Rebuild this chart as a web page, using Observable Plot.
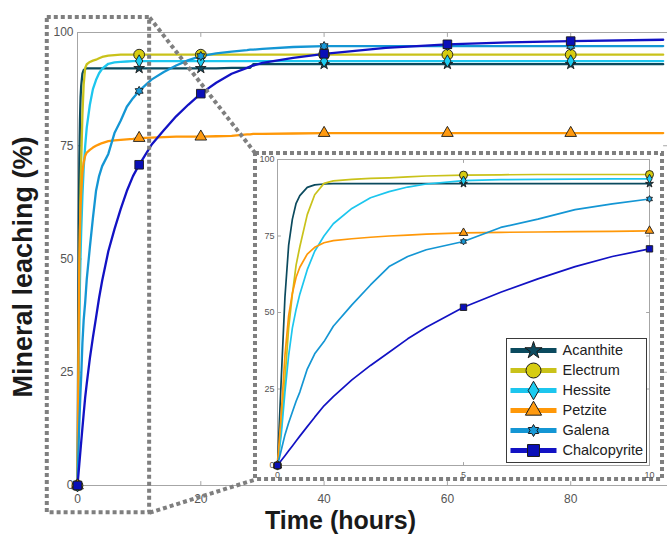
<!DOCTYPE html>
<html><head><meta charset="utf-8">
<script src="https://cdn.jsdelivr.net/npm/d3@7"></script>
<script src="https://cdn.jsdelivr.net/npm/@observablehq/plot@0.6"></script>
<style>
body{margin:0;background:#fff;}
#wrap{position:relative;width:667px;height:534px;overflow:hidden;background:#fff;}
#wrap svg{position:absolute;left:0;top:0;}
</style></head><body><div id="wrap"></div>
<script>
// ---------------- data ----------------
const time = [0, 0.1, 0.2, 0.3, 0.4, 0.5, 0.6, 0.8, 1, 1.25, 1.5, 2, 2.5, 3, 3.5, 4, 5, 6, 7, 8, 9, 10,
  12, 14, 16, 18, 20, 22.5, 25, 27.5, 28, 28.5, 30, 35, 40, 50, 60, 70, 80, 95];
const acanthite = [0, 28, 55, 72, 80.5, 85.7, 88.2, 90.9, 91.7, 92.0, 92.1, 92.1, 92.1, 92.1, 92.1, 92.1, 92.1, 92.1, 92.1, 92.1, 92.1, 92.1,
  92.1, 92.1, 92.1, 92.1, 92.1, 92.1, 92.2, 92.2, 92.2, 93.0, 93.0, 93.0, 93.0, 93.0, 93.0, 93.0, 93.0, 93.0];
const electrum = [0, 12, 28, 45, 56, 65.5, 71.5, 82, 88.5, 92.2, 93.0, 93.5, 93.8, 94.0, 94.3, 94.6, 94.9, 95.0, 95.1, 95.1, 95.1, 95.1,
  95.1, 95.1, 95.1, 95.1, 95.1, 95.1, 95.1, 95.1, 95.1, 95.1, 95.1, 95.1, 95.1, 95.1, 95.1, 95.1, 95.1, 95.1];
const hessite = [0, 10, 24, 36, 45, 51, 56, 64, 70, 75, 79, 84, 87.5, 89.5, 91, 92, 93.1, 93.4, 93.5, 93.6, 93.7, 93.7,
  93.7, 93.7, 93.7, 93.7, 93.7, 93.7, 93.7, 93.7, 93.7, 93.7, 93.7, 93.7, 93.7, 93.7, 93.7, 93.7, 93.7, 93.7];
const petzite = [0, 17, 36, 49, 56.3, 61.5, 64.8, 69.1, 71.3, 72.8, 73.5, 74.1, 74.6, 75.0, 75.3, 75.6, 76.0, 76.2, 76.3, 76.4, 76.5, 76.7,
  76.8, 76.9, 77.0, 77.0, 77.0, 77.1, 77.2, 77.5, 77.5, 77.6, 77.6, 77.7, 77.8, 77.8, 77.8, 77.8, 77.8, 77.8];
const galena = [0, 5, 10, 14, 17.5, 21, 24, 31.5, 36.5, 40.5, 45.5, 52.5, 59, 65, 68.3, 70.5, 73.2, 77.8, 80.5, 83.6, 85.5, 87.1,
  89.6, 91.3, 92.7, 93.9, 94.8, 95.4, 95.8, 96.1, 96.2, 96.2, 96.4, 96.8, 97.0, 97.0, 97.0, 97.0, 97.0, 97.0];
const chalcopyrite = [0, 1.6, 3.2, 4.8, 6.4, 8, 9.6, 12.7, 15.8, 19.5, 22.5, 28, 32.7, 37, 41.4, 45.2, 51.7, 56.6, 61, 65, 68.3, 70.8,
  75.2, 78.4, 81.5, 84.1, 86.5, 88.9, 90.9, 92.2, 92.5, 92.7, 93.3, 94.4, 95.3, 96.6, 97.4, 97.8, 98.1, 98.4];

const seriesNames = ["Acanthite", "Electrum", "Hessite", "Petzite", "Galena", "Chalcopyrite"];
const mainMarkerTimes = [0, 10, 20, 40, 60, 80];
const insetMarkerTimes = [0, 5, 10];
const mainXTicks = [0, 20, 40, 60, 80];
const yTicks = [0, 25, 50, 75, 100];
const insetXTicks = [0, 5, 10];
const xLabel = "Time (hours)";
const yLabel = "Mineral leaching (%)";

// ---------------- styles ----------------
const seriesValues = [acanthite, electrum, hessite, petzite, galena, chalcopyrite];
const lineColors = ["#0b4a5e", "#c9c21a", "#1cc6ee", "#ff9808", "#1496d4", "#1212c4"];
const fillColors = ["#0d4b60", "#d6cc10", "#1ccbf0", "#ff9a10", "#1a9ad8", "#0a0fb8"];
const hexagram = {draw(ctx, size) {
  const R = Math.sqrt(size / Math.PI), r = R / Math.sqrt(3);
  for (let k = 0; k < 12; k++) {
    const a = (k * 30 - 90) * Math.PI / 180, q = k % 2 === 0 ? R : r;
    const x = q * Math.cos(a), y = q * Math.sin(a);
    if (k) ctx.lineTo(x, y); else ctx.moveTo(x, y);
  }
  ctx.closePath();
}};
const symbols = ["star", "circle", "diamond", "triangle", hexagram, "square"];
const symScale = [0.62, 1.0, 0.7, 0.8, 0.85, 0.9];
const FONT = '"Liberation Sans", Arial, Helvetica, sans-serif';
const tickShape = {draw(ctx, l) { ctx.moveTo(0, 0); ctx.lineTo(0, -l); }};

const rows = seriesNames.flatMap((name, i) => time.map((t, j) => ({name, i, t, v: seriesValues[i][j]})));

function inwardTicks(xs, ys, x0, x1, y0, y1, len, color) {
  const o = {length: len, anchor: "start", shape: tickShape, stroke: color, strokeWidth: 1};
  return [
    Plot.vector(xs, {...o, x: d => d, y: y0, rotate: 0}),
    Plot.vector(xs, {...o, x: d => d, y: y1, rotate: 180}),
    Plot.vector(ys, {...o, x: x0, y: d => d, rotate: 90}),
    Plot.vector(ys, {...o, x: x1, y: d => d, rotate: -90})
  ];
}

function seriesMarks(data, lw) {
  return seriesNames.map((name, i) =>
    Plot.line(data.filter(d => d.i === i), {x: "t", y: "v", stroke: lineColors[i], strokeWidth: lw, strokeLinejoin: "round"}));
}
function markerMarks(data, markerTimes, baseR) {
  return seriesNames.map((name, i) =>
    Plot.dot(data.filter(d => d.i === i && markerTimes.includes(d.t)), {
      x: "t", y: "v", symbol: symbols[i], r: baseR * symScale[i],
      fill: fillColors[i], stroke: "#1b1b1b", strokeWidth: 0.9
    }));
}

// ---------------- main chart ----------------
const W = 667, H = 534;
const XMAX = 95.7;
const zoomBox = {x1: -4.9, x2: 11.7, y1: -6, y2: 103.3};
const insetBox = {x1: 28.87, x2: 94.89, y1: 1.32, y2: 73.29};
const dotted = {stroke: "#7f7f7f", strokeWidth: 4, strokeDasharray: "4,3", fill: "none"};

const main = Plot.plot({
  width: W, height: H,
  marginLeft: 77, marginRight: 0, marginTop: 32, marginBottom: 49,
  x: {domain: [0, XMAX]},
  y: {domain: [0, 100]},
  style: {fontFamily: FONT, background: "white", overflow: "visible"},
  marks: [
    Plot.frame({stroke: "#a6a6a6", strokeWidth: 1}),
    ...inwardTicks(mainXTicks.slice(1), yTicks.slice(1, -1), 0, XMAX, 0, 100, 4, "#a6a6a6"),
    Plot.axisX(mainXTicks, {tickSize: 0, tickPadding: 9, fontSize: 12, color: "#555", label: null}),
    Plot.axisY(yTicks, {tickSize: 0, tickPadding: 4, fontSize: 12, color: "#555", label: null}),
    ...seriesMarks(rows, 2.3),
    Plot.rect([0], {x1: zoomBox.x1, x2: zoomBox.x2, y1: zoomBox.y1, y2: zoomBox.y2, ...dotted}),
    Plot.rect([0], {x1: insetBox.x1, x2: insetBox.x2, y1: insetBox.y1, y2: insetBox.y2, ...dotted}),
    Plot.link([0], {x1: zoomBox.x2, y1: zoomBox.y2, x2: insetBox.x1, y2: insetBox.y2, ...dotted}),
    Plot.link([0], {x1: zoomBox.x2, y1: zoomBox.y1, x2: insetBox.x1, y2: insetBox.y1, ...dotted}),
    ...markerMarks(rows, mainMarkerTimes, 5.4),
    Plot.text([yLabel], {frameAnchor: "left", textAnchor: "middle", lineAnchor: "middle", dx: -54, dy: 8, rotate: -90, fontSize: 27, fontWeight: "bold", fill: "#1a1a1a"}),
    Plot.text([xLabel], {frameAnchor: "bottom", textAnchor: "middle", lineAnchor: "middle", dx: -32, dy: 35, fontSize: 25, fontWeight: "bold", fill: "#1a1a1a"})
  ]
});
const wrap = document.getElementById("wrap");
wrap.appendChild(main);

// ---------------- inset ----------------
const sx = main.scale("x"), sy = main.scale("y");
const boxL = sx.apply(insetBox.x1), boxR = sx.apply(insetBox.x2);
const boxT = sy.apply(insetBox.y2), boxB = sy.apply(insetBox.y1);
const fL = boxL + 22, fR = boxR - 13, fT = boxT + 6, fB = boxB - 14;
const mL = 26, mR = 14, mT = 8, mB = 18;
const insetRows = rows.filter(d => d.t <= 10);
const inset = Plot.plot({
  width: Math.round(fR - fL + mL + mR), height: Math.round(fB - fT + mT + mB),
  marginLeft: mL, marginRight: mR, marginTop: mT, marginBottom: mB,
  x: {domain: [0, 10]},
  y: {domain: [0, 100]},
  style: {fontFamily: FONT, background: "none", overflow: "visible"},
  marks: [
    Plot.frame({stroke: "#a6a6a6", strokeWidth: 1}),
    ...inwardTicks([5], yTicks.slice(1, -1), 0, 10, 0, 100, 3, "#a6a6a6"),
    Plot.axisX(insetXTicks, {tickSize: 0, tickPadding: 6, fontSize: 9, color: "#555", label: null}),
    Plot.axisY(yTicks, {tickSize: 0, tickPadding: 3, fontSize: 9, color: "#555", label: null}),
    ...seriesMarks(insetRows, 1.7),
    ...markerMarks(insetRows, insetMarkerTimes, 4.0)
  ]
});
inset.style.left = (fL - mL) + "px";
inset.style.top = (fT - mT) + "px";
wrap.appendChild(inset);

// ---------------- legend ----------------
const legRows = seriesNames.map((name, i) => ({name, i}));
const legScale = [0.72, 1.0, 0.75, 0.8, 0.8, 0.9];
const LW = 142, LH = 126;
const legend = Plot.plot({
  width: LW, height: LH,
  marginLeft: 1, marginRight: 1, marginTop: 1, marginBottom: 1,
  x: {domain: [0, 1], range: [5, 51]},
  y: {domain: [0, 5], range: [13, 113]},
  axis: null,
  style: {fontFamily: FONT, background: "none", overflow: "visible"},
  marks: [
    Plot.frame({stroke: "#3a3a3a", fill: "white", strokeWidth: 1}),
    ...legRows.map(d => Plot.link([d], {x1: 0, x2: 1, y1: d.i, y2: d.i, stroke: lineColors[d.i], strokeWidth: 5})),
    ...legRows.map(d => Plot.dot([d], {x: 0.5, y: d.i, symbol: symbols[d.i], r: 7.5 * legScale[d.i], fill: fillColors[d.i], stroke: "#1b1b1b", strokeWidth: 1})),
    Plot.text(legRows, {x: 1, y: "i", text: "name", dx: 6, textAnchor: "start", fontSize: 14.5, fill: "#222"})
  ]
});
legend.style.left = (fR - LW - 2) + "px";
legend.style.top = (fB - LH - 2) + "px";
wrap.appendChild(legend);
</script></body></html>
